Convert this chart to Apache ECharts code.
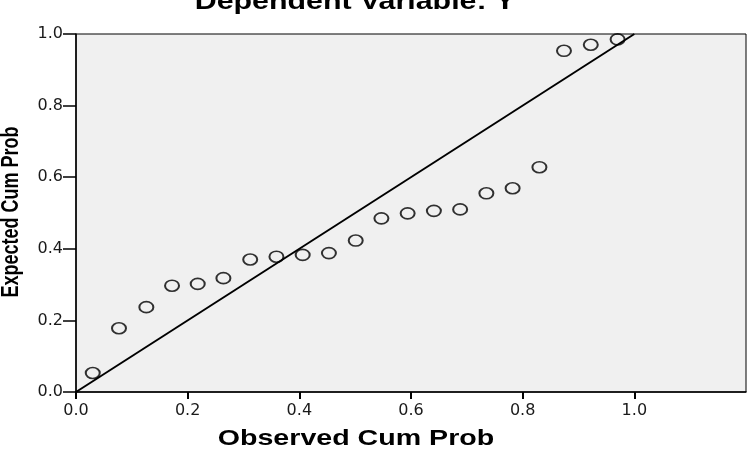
<!DOCTYPE html>
<html>
<head>
<meta charset="utf-8">
<script src="https://cdn.jsdelivr.net/npm/echarts@6/dist/echarts.min.js"></script>
<style>html,body{margin:0;padding:0;background:#fff}#c{width:751px;height:454px}</style>
</head>
<body>
<div id="c"></div>
<script>
// Observed cumulative probability (x) and expected cumulative probability (y)
const obsCumProb = [0.030,0.077,0.126,0.172,0.218,0.264,0.312,0.359,0.406,0.453,0.501,0.547,0.594,0.641,0.688,0.735,0.782,0.830,0.874,0.922,0.970];
const expCumProb = [0.053,0.178,0.237,0.297,0.302,0.318,0.370,0.378,0.383,0.388,0.423,0.485,0.499,0.506,0.510,0.555,0.569,0.628,0.953,0.970,0.985];
// Reference diagonal
const refLineX = [0, 1];
const refLineY = [0, 1];
// Tick values
const xTicks = [0, 0.2, 0.4, 0.6, 0.8, 1.0];
const yTicks = [0, 0.2, 0.4, 0.6, 0.8, 1.0];
const titleText = 'Dependent Variable: Y';
const xName = 'Observed Cum Prob';
const yName = 'Expected Cum Prob';

const chart = echarts.init(document.getElementById('c'), null, {renderer: 'canvas'});
const pts = obsCumProb.map((x, i) => [x, expCumProb[i]]);
const line = refLineX.map((x, i) => [x, refLineY[i]]);
const labelFont = {fontFamily: 'DejaVu Sans', fontSize: 16, color: '#1a1a1a'};

chart.setOption({
  animation: false,
  backgroundColor: '#ffffff',
  grid: {left: 76, top: 34, width: 670, height: 358, show: true,
         backgroundColor: '#f0f0f0', borderColor: '#000', borderWidth: 1},
  xAxis: {
    type: 'value', min: 0, max: 1.2, interval: 0.2,
    axisLine: {show: true, onZero: false, lineStyle: {color: '#000', width: 1.5}},
    axisTick: {show: true, inside: false, length: 7, customValues: xTicks, lineStyle: {color: '#000', width: 2}},
    axisLabel: Object.assign({margin: 11, customValues: xTicks, formatter: v => v.toFixed(1)}, labelFont),
    splitLine: {show: false}
  },
  yAxis: {
    type: 'value', min: 0, max: 1, interval: 0.2,
    axisLine: {show: true, onZero: false, lineStyle: {color: '#000', width: 1.5}},
    axisTick: {show: true, inside: false, length: 13, customValues: yTicks, lineStyle: {color: '#000', width: 1.5}},
    axisLabel: Object.assign({margin: 13, customValues: yTicks, formatter: v => v.toFixed(1)}, labelFont),
    splitLine: {show: false}
  },
  series: [
    {type: 'line', data: line, symbol: 'none', silent: true,
     lineStyle: {color: '#000', width: 2}},
    {type: 'scatter', data: pts, symbol: 'circle', symbolSize: [14, 11],
     itemStyle: {color: 'rgba(0,0,0,0)', borderColor: '#000', borderWidth: 1.8}}
  ],
  graphic: [
    {type: 'text', x: 355, y: 3, scaleX: 1.32,
     style: {text: titleText, fontFamily: 'Liberation Sans', fontWeight: 'bold', fontSize: 23,
             fill: '#000', align: 'center', verticalAlign: 'middle'}},
    {type: 'text', x: 356, y: 439, scaleX: 1.3,
     style: {text: xName, fontFamily: 'Liberation Sans', fontWeight: 'bold', fontSize: 22,
             fill: '#000', align: 'center', verticalAlign: 'middle'}},
    {type: 'text', x: 11, y: 212, rotation: Math.PI / 2, scaleY: 1.35,
     style: {text: yName, fontFamily: 'Liberation Sans', fontWeight: 'bold', fontSize: 18,
             fill: '#000', align: 'center', verticalAlign: 'middle'}}
  ]
});
</script>
</body>
</html>
